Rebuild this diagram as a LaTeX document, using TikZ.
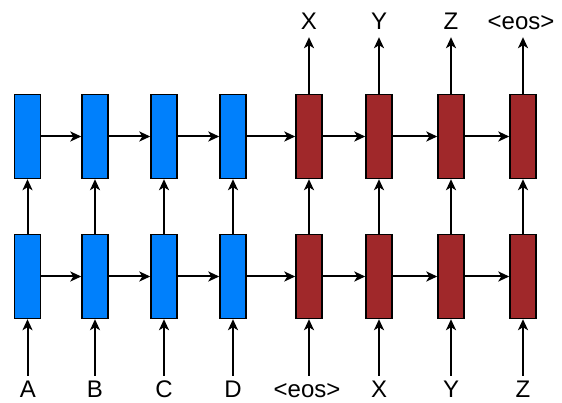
\documentclass[tikz,border=0pt]{standalone}
\usepackage{fontspec}
\setmainfont{Liberation Sans}
\usetikzlibrary{arrows.meta}
\definecolor{encblue}{RGB}{0,128,252}
\definecolor{decred}{RGB}{160,40,42}
\begin{document}
\begin{tikzpicture}[x=1pt,y=-1pt,
  cell/.style={draw=black,line width=1.4pt,minimum width=26pt,minimum height=84pt,inner sep=0pt},
  enc/.style={cell,fill=encblue},
  dec/.style={cell,fill=decred},
  arr/.style={line width=2pt,-{Stealth[length=11pt,width=10pt,inset=3pt]}},
  lbl/.style={font=\fontsize{24}{26}\selectfont,inner sep=0pt,text height=17pt,text depth=0pt}]
\useasboundingbox (0,0) rectangle (562,403);
% columns
\foreach \i/\x/\t in {1/27.5/enc,2/95/enc,3/164/enc,4/233/enc,5/309/dec,6/379/dec,7/451/dec,8/523/dec}{
  \node[\t] (t\i) at (\x,136.5) {};
  \node[\t] (b\i) at (\x,276.5) {};
}
% bottom labels
\node[lbl,anchor=base] (i1) at (28,397) {A};
\node[lbl,anchor=base] (i2) at (95,397) {B};
\node[lbl,anchor=base] (i3) at (164,397) {C};
\node[lbl,anchor=base] (i4) at (233,397) {D};
\node[lbl,anchor=base] (i5) at (307,397) {<eos>};
\node[lbl,anchor=base] (i6) at (379,397) {X};
\node[lbl,anchor=base] (i7) at (451,397) {Y};
\node[lbl,anchor=base] (i8) at (523,397) {Z};
% top labels
\node[lbl,anchor=base] (o5) at (309,30) {X};
\node[lbl,anchor=base] (o6) at (379,30) {Y};
\node[lbl,anchor=base] (o7) at (451,30) {Z};
\node[lbl,anchor=base] (o8) at (521,30) {<eos>};
% arrows
\foreach \i in {1,...,8}{
  \draw[arr,shorten <=4pt] (i\i.north -| b\i.south) -- (b\i.south);
  \draw[arr] (b\i.north) -- (t\i.south);
}
\foreach \i in {5,...,8}{
  \draw[arr,shorten >=7pt] (t\i.north) -- (o\i.south -| t\i.north);
}
\foreach \i/\j in {1/2,2/3,3/4,4/5,5/6,6/7,7/8}{
  \draw[arr] (t\i.east) -- (t\j.west);
  \draw[arr] (b\i.east) -- (b\j.west);
}
\end{tikzpicture}
\end{document}
